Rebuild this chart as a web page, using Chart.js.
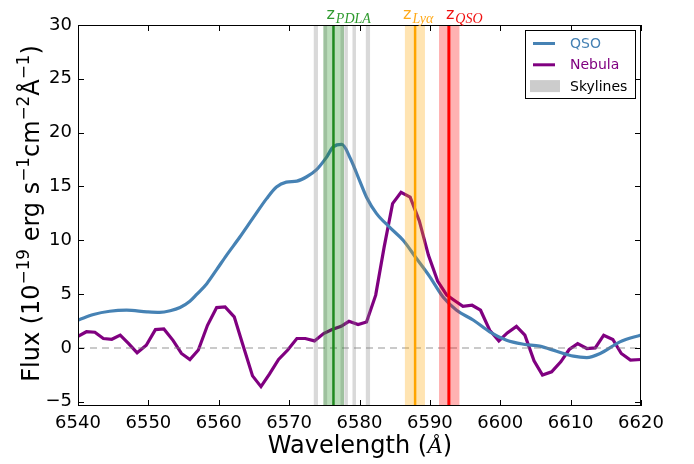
<!DOCTYPE html>
<html>
<head>
<meta charset="utf-8">
<script src="https://cdn.jsdelivr.net/npm/chart.js@4.4.1/dist/chart.umd.min.js"></script>
<style>
  body { margin: 0; background: #fff; }
  #wrap { width: 694px; height: 464px; }
</style>
</head>
<body>
<div id="wrap"><canvas id="spectrumChart"></canvas></div>
<script>
// wavelength (A) and flux (1e-19 erg/s/cm2/A)
var qsoWave = [6540.1, 6542.2, 6544.5, 6546.9, 6549.8, 6551.6, 6553.1, 6554.5, 6555.9, 6556.9,
    6558.3, 6559.7, 6561.1, 6563.0, 6564.9, 6566.8, 6568.2, 6569.6, 6571.1, 6572.5, 6573.9,
    6575.3, 6576.3, 6577.5, 6578.7, 6580.1, 6581.0, 6582.4, 6584.3, 6586.2, 6588.1, 6590.0,
    6591.9, 6593.8, 6596.2, 6598.5, 6600.9, 6603.3, 6605.6, 6608.0, 6610.4, 6612.3, 6614.2,
    6617.0, 6620.0];
var qsoFlux = [2.6, 3.1, 3.4, 3.5, 3.35, 3.3, 3.45, 3.75, 4.33, 4.99,
    5.97, 7.27, 8.6, 10.3, 12.1, 13.87, 14.95, 15.4, 15.5, 15.9, 16.56,
    17.7, 18.7, 18.9, 17.6, 15.4, 14.0, 12.5, 11.2, 10.0, 8.3, 6.6,
    4.7, 3.5, 2.57, 1.49, 0.71, 0.34, 0.16, -0.31, -0.77, -0.9, -0.52,
    0.56, 1.2];

var nebWave = [6540.0, 6541.2, 6542.4, 6543.6, 6544.8, 6546.0, 6547.2, 6548.4, 6549.7, 6551.0,
    6552.2, 6553.5, 6554.7, 6555.9, 6557.1, 6558.4, 6559.7, 6560.9, 6562.2, 6563.4, 6564.8,
    6566.0, 6567.2, 6568.5, 6569.8, 6571.1, 6572.3, 6573.6, 6574.9, 6576.1, 6577.4, 6578.5,
    6579.8, 6581.0, 6582.3, 6583.5, 6584.7, 6585.9, 6587.2, 6588.5, 6589.8, 6591.1, 6592.4,
    6593.6, 6594.7, 6596.0, 6597.2, 6598.5, 6599.8, 6601.0, 6602.3, 6603.5, 6604.8, 6606.0,
    6607.3, 6608.6, 6609.8, 6611.0, 6612.3, 6613.5, 6614.7, 6616.0, 6617.2, 6618.5, 6620.0];
var nebFlux = [1.08, 1.5, 1.45, 0.87, 0.8, 1.18, 0.4, -0.46, 0.25, 1.7,
    1.76, 0.7, -0.52, -1.08, -0.2, 2.1, 3.74, 3.8, 2.88, 0.34, -2.6,
    -3.6, -2.44, -1.08, -0.2, 0.87, 0.87, 0.65, 1.33, 1.7, 2.0, 2.47,
    2.17, 2.4, 4.9, 9.36, 13.4, 14.46, 14.0, 11.8, 8.6, 6.2, 4.9,
    4.36, 3.86, 3.96, 3.5, 1.64, 0.65, 1.39, 2.0, 1.18, -1.2, -2.53,
    -2.22, -1.3, -0.15, 0.4, -0.06, 0.0, 1.18, 0.78, -0.52, -1.14, -1.08];

// sky line windows
var skyStart = [6573.5, 6574.9, 6577.3, 6577.85, 6579.0, 6580.9];
var skyEnd = [6574.1, 6575.4, 6577.8, 6578.35, 6579.5, 6581.5];

// redshift markers: line, window
var zNames = ['PDLA', 'Ly\u03b1', 'QSO'];
var zLine = [6576.3, 6587.9, 6592.7];
var zLow = [6574.85, 6586.45, 6591.3];
var zHigh = [6577.8, 6589.3, 6594.2];

var xTicks = [6540, 6550, 6560, 6570, 6580, 6590, 6600, 6610, 6620];
var yTicks = [-5, 0, 5, 10, 15, 20, 25, 30];

var zColors = ['#1f8a1f', '#ffa500', '#ff0000'];
var zBandColors = ['rgba(0,128,0,0.27)', 'rgba(255,165,0,0.3)', 'rgba(255,0,0,0.3)'];
var zLabelColors = ['#2e9a2e', '#ffaa1a', '#f01010'];
var zLabelShift = [-7, -12, -3];
var SANS = '"DejaVu Sans", sans-serif';
var SERIF = '"Liberation Serif", serif';

function pts(xs, ys) {
    return xs.map(function (v, i) { return {x: v, y: ys[i]}; });
}

// draw a row of text parts, some raised as superscripts
function richWidth(ctx, parts, size) {
    var w = 0;
    parts.forEach(function (p) {
        ctx.font = (p.sup ? size * 0.7 : size) + 'px ' + SANS;
        w += ctx.measureText(p.t).width;
    });
    return w;
}
function drawRich(ctx, parts, size, x, y) {
    parts.forEach(function (p) {
        var s = p.sup ? size * 0.7 : size;
        ctx.font = s + 'px ' + SANS;
        ctx.fillText(p.t, x, p.sup ? y - size * 0.42 : y);
        x += ctx.measureText(p.t).width;
    });
}

var decor = {
    id: 'decor',
    afterDatasetsDraw: function (chart) {
        var ctx = chart.ctx, a = chart.chartArea;
        var xs = chart.scales.x, ys = chart.scales.y;
        ctx.save();
        ctx.beginPath();
        ctx.rect(a.left, a.top, a.right - a.left, a.bottom - a.top);
        ctx.clip();
        ctx.fillStyle = 'rgba(128,128,128,0.3)';
        skyStart.forEach(function (s, i) {
            var x0 = xs.getPixelForValue(s), x1 = xs.getPixelForValue(skyEnd[i]);
            ctx.fillRect(x0, a.top, x1 - x0, a.bottom - a.top);
        });
        zLine.forEach(function (w, i) {
            var x0 = xs.getPixelForValue(zLow[i]), x1 = xs.getPixelForValue(zHigh[i]);
            ctx.fillStyle = zBandColors[i];
            ctx.fillRect(x0, a.top, x1 - x0, a.bottom - a.top);
        });
        zLine.forEach(function (w, i) {
            var px = xs.getPixelForValue(w);
            ctx.strokeStyle = zColors[i];
            ctx.lineWidth = i === 2 ? 3 : 2.5;
            ctx.beginPath();
            ctx.moveTo(px, a.top);
            ctx.lineTo(px, a.bottom);
            ctx.stroke();
        });
        ctx.restore();

        // frame and inward ticks
        ctx.save();
        ctx.strokeStyle = '#000';
        ctx.lineWidth = 1;
        ctx.strokeRect(a.left + 0.5, a.top + 0.5, a.right - a.left - 1, a.bottom - a.top - 1);
        ctx.beginPath();
        xTicks.forEach(function (v) {
            var px = Math.round(xs.getPixelForValue(v)) + 0.5;
            ctx.moveTo(px, a.bottom); ctx.lineTo(px, a.bottom - 6);
            ctx.moveTo(px, a.top); ctx.lineTo(px, a.top + 6);
        });
        yTicks.forEach(function (v) {
            var py = Math.round(ys.getPixelForValue(v)) + 0.5;
            ctx.moveTo(a.left, py); ctx.lineTo(a.left + 6, py);
            ctx.moveTo(a.right, py); ctx.lineTo(a.right - 6, py);
        });
        ctx.stroke();
        ctx.restore();
    },
    afterDraw: function (chart) {
        var ctx = chart.ctx, a = chart.chartArea;
        var xs = chart.scales.x;
        ctx.save();
        ctx.textBaseline = 'alphabetic';
        ctx.textAlign = 'left';

        // labels above the plot
        zNames.forEach(function (n, i) {
            var px = xs.getPixelForValue(zLine[i]) + zLabelShift[i];
            ctx.fillStyle = zLabelColors[i];
            ctx.font = '16px ' + SANS;
            ctx.fillText('z', px, 19);
            var zw = ctx.measureText('z').width;
            ctx.font = 'italic 14px ' + SERIF;
            ctx.fillText(n, px + zw + 1, 23);
        });

        // legend
        var lx = 525, ly = 30, lw = 110, lh = 68;
        ctx.fillStyle = '#fff';
        ctx.fillRect(lx, ly, lw, lh);
        ctx.strokeStyle = '#000';
        ctx.lineWidth = 1;
        ctx.strokeRect(lx + 0.5, ly + 0.5, lw, lh);
        var rows = [
            {t: 'QSO', c: '#4682b4', tc: '#4682b4'},
            {t: 'Nebula', c: '#800080', tc: '#800080'},
            {t: 'Skylines', c: null, tc: '#000'}
        ];
        ctx.font = '14px ' + SANS;
        ctx.textBaseline = 'middle';
        rows.forEach(function (r, i) {
            var cy = 43.5 + i * 21.3;
            if (r.c) {
                ctx.strokeStyle = r.c;
                ctx.lineWidth = 3;
                ctx.beginPath();
                ctx.moveTo(533, cy); ctx.lineTo(555, cy);
                ctx.stroke();
            } else {
                ctx.fillStyle = '#cccccc';
                ctx.fillRect(530, cy - 6, 30, 12);
            }
            ctx.fillStyle = r.tc;
            ctx.fillText(r.t, 570, cy + 1);
        });

        // x title
        ctx.textBaseline = 'alphabetic';
        ctx.fillStyle = '#000';
        ctx.font = '24px ' + SANS;
        var t1 = 'Wavelength (';
        var w1 = ctx.measureText(t1).width;
        ctx.font = 'italic 24px ' + SERIF;
        var w2 = ctx.measureText('\u00c5').width;
        ctx.font = '24px ' + SANS;
        var w3 = ctx.measureText(')').width;
        var cx = (a.left + a.right) / 2;
        var sx = cx - (w1 + w2 + w3) / 2;
        ctx.fillText(t1, sx, 453);
        ctx.font = 'italic 24px ' + SERIF;
        ctx.fillText('\u00c5', sx + w1, 453);
        ctx.font = '24px ' + SANS;
        ctx.fillText(')', sx + w1 + w2 + 1, 453);

        // y title
        var parts = [
            {t: 'Flux (10'}, {t: '\u221219', sup: true}, {t: ' erg s'}, {t: '\u22121', sup: true},
            {t: 'cm'}, {t: '\u22122', sup: true}, {t: '\u00c5'}, {t: '\u22121', sup: true}, {t: ')'}
        ];
        var size = 24;
        var tw = richWidth(ctx, parts, size);
        ctx.translate(39, (a.top + a.bottom) / 2 - 2);
        ctx.rotate(-Math.PI / 2);
        drawRich(ctx, parts, size, -tw / 2, 0);
        ctx.restore();
    }
};

var ctx = document.getElementById('spectrumChart').getContext('2d');
var spectrumChart = new Chart(ctx, {
    type: 'line',
    data: {
        datasets: [{
            label: 'zero',
            data: pts([6540, 6620], [0, 0]),
            borderColor: 'rgba(128,128,128,0.55)',
            borderWidth: 1.5,
            borderDash: [7, 5],
            pointRadius: 0
        }, {
            label: 'QSO',
            data: pts(qsoWave, qsoFlux),
            borderColor: '#4682b4',
            borderWidth: 3.2,
            pointRadius: 0,
            cubicInterpolationMode: 'monotone'
        }, {
            label: 'Nebula',
            data: pts(nebWave, nebFlux),
            borderColor: '#800080',
            borderWidth: 3.2,
            pointRadius: 0,
            tension: 0
        }]
    },
    options: {
        responsive: true,
        maintainAspectRatio: false,
        animation: false,
        layout: { padding: { left: 0, top: 25, right: 53, bottom: 0 } },
        plugins: { legend: { display: false }, tooltip: { enabled: false } },
        scales: {
            x: {
                type: 'linear',
                min: 6540,
                max: 6620,
                afterBuildTicks: function (scale) {
                    scale.ticks = xTicks.map(function (v) { return {value: v}; });
                },
                afterFit: function (scale) { scale.height = 58; },
                grid: { display: false, drawTicks: false },
                border: { display: false },
                ticks: {
                    color: '#000',
                    padding: 7,
                    maxRotation: 0,
                    font: { family: SANS, size: 18 },
                    callback: function (v) { return String(v); }
                }
            },
            y: {
                type: 'linear',
                min: -5.4,
                max: 30,
                afterBuildTicks: function (scale) {
                    scale.ticks = yTicks.map(function (v) { return {value: v}; });
                },
                afterFit: function (scale) { scale.width = 78; },
                grid: { display: false, drawTicks: false },
                border: { display: false },
                ticks: {
                    color: '#000',
                    padding: 6,
                    font: { family: SANS, size: 18 },
                    callback: function (v) { return String(v).replace('-', '\u2212'); }
                }
            }
        }
    },
    plugins: [decor]
});
</script>
</body>
</html>
